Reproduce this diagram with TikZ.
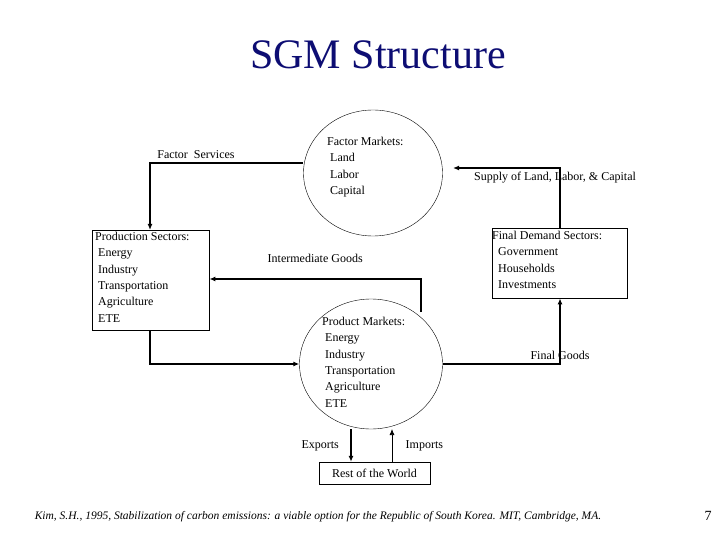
\documentclass[tikz,border=0pt]{standalone}
\usepackage{fontspec}
\setmainfont{Liberation Serif}
\usetikzlibrary{arrows.meta,shapes.geometric}
\begin{document}
\begin{tikzpicture}[x=1pt,y=-1pt,font=\fontsize{12}{16.3}\selectfont,
    flow/.style={line width=1.6pt,-{Latex[length=6pt,width=5pt]}},
    thin flow/.style={line width=0.7pt,-{Latex[length=6pt,width=5pt]}},
    sector/.style={draw,thin,align=left,anchor=north west,inner sep=3pt},
    txt/.style={align=left,anchor=north west,inner sep=0pt}]
\useasboundingbox (0,0) rectangle (720,540);
\node (title) at (378,55) {\fontsize{42}{46}\selectfont\textcolor[rgb]{0.05,0.05,0.45}{SGM Structure}};
% markets
\node[draw,thin,ellipse,minimum width=139pt,minimum height=126pt] (fm) at (373,173) {};
\node[txt] at (327,137) {Factor Markets:\\ \ Land\\ \ Labor\\ \ Capital};
\node[draw,thin,ellipse,minimum width=143pt,minimum height=130pt] (pm) at (371,364) {};
\node[txt] at (322,317) {Product Markets:\\ \ Energy\\ \ Industry\\ \ Transportation\\ \ Agriculture\\ \ ETE};
% sectors
\node[sector,minimum width=117pt,minimum height=100pt] (ps) at (92,230) {};
\node[txt] at (95,232) {Production Sectors:\\ \ Energy\\ \ Industry\\ \ Transportation\\ \ Agriculture\\ \ ETE};
\node[sector,minimum width=135pt,minimum height=70pt] (fd) at (492,228) {};
\node[txt] at (492,231) {Final Demand Sectors:\\ \ \ Government\\ \ \ Households\\ \ \ Investments};
\node[draw,thin,minimum width=111pt,minimum height=22pt] (rw) at (374.5,473) {Rest of the World};
% flows
\draw[flow] (fm.west |- 0,163) -| node[pos=0.35,above] {Factor\ \ Services} (ps.north -| 150,0);
\draw[flow] (fd.north -| 560,0) |- node[pos=0.42,xshift=-5pt] {Supply of Land, Labor, \& Capital} (453,168);
\draw[flow] (421,312) |- node[pos=0.75,above=12pt] {Intermediate Goods} (ps.east |- 0,279);
\draw[flow] (ps.south -| 150,0) |- (pm.west);
\draw[flow] (pm.east) -| node[pos=0.5,above] {Final Goods} (fd.south -| 560,0);
\draw[flow] (351,429) -- node[left=8pt] {Exports} (rw.north -| 351,0);
\draw[thin flow] (rw.north -| 392,0) -- node[right=10pt] {Imports} (392,429);
% source
\node at (318,517) {\fontsize{11.5}{13}\selectfont\itshape Kim, S.H., 1995, Stabilization of carbon emissions: a viable option for the Republic of South Korea. MIT, Cambridge, MA.};
\node at (708,516) {\fontsize{14}{16}\selectfont 7};
\end{tikzpicture}
\end{document}
